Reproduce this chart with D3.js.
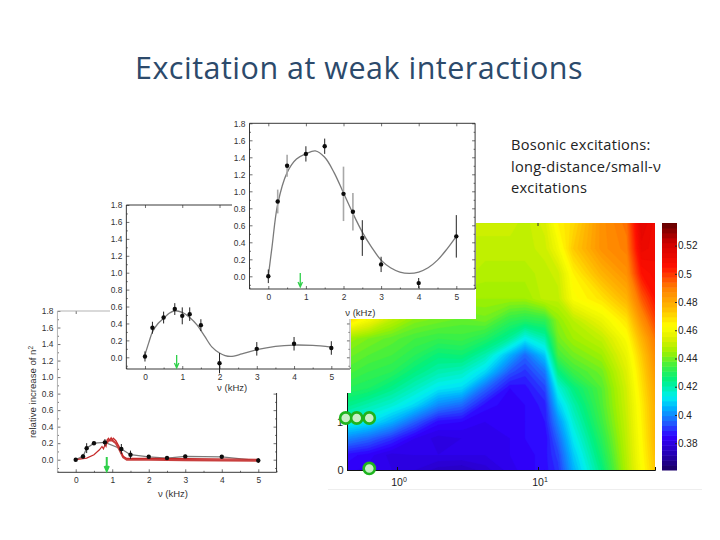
<!DOCTYPE html>
<html><head><meta charset="utf-8">
<script src="https://cdn.jsdelivr.net/npm/d3@7"></script>
<style>html,body{margin:0;background:#fff}svg{display:block}</style></head>
<body><div id="c"></div>
<script>
const titleText = "Excitation at weak interactions";
const noteLines = ["Bosonic excitations:", "long-distance/small-ν", "excitations"];
const yTicks = [0,0.2,0.4,0.6,0.8,1.0,1.2,1.4,1.6,1.8];
const yMinor = [-0.1,0.1,0.3,0.5,0.7,0.9,1.1,1.3,1.5,1.7];
const xTicks = [0,1,2,3,4,5];
const xMinor = [-0.5,0.5,1.5,2.5,3.5,4.5,5.5];
const arrowNu = [0.85];

// top panel
const topX = [0,0.25,0.5,1,1.5,2,2.25,2.5,3,4,5];
const topY = [0,0.88,1.30,1.44,1.53,0.97,0.76,0.45,0.14,-0.08,0.47];
const topErr = [0.08,0.14,0.13,0.09,0.09,0.32,0.22,0.21,0.09,0.06,0.25];
const topGrayErrX = [0.25,0.5,2,2.25];
const topCurveX = [0,0.1,0.25,0.5,0.75,1,1.25,1.5,1.75,2,2.25,2.5,2.75,3,3.25,3.5,3.75,4,4.25,4.5,4.75,5];
const topCurveY = [0,0.35,0.85,1.22,1.38,1.44,1.475,1.40,1.22,0.98,0.74,0.52,0.34,0.19,0.10,0.05,0.035,0.05,0.10,0.19,0.32,0.47];

// middle panel
const midX = [0,0.2,0.5,0.8,1,1.2,1.5,2,3,4,5];
const midY = [0.01,0.35,0.47,0.57,0.49,0.51,0.38,-0.07,0.10,0.16,0.11];
const midErr = [0.06,0.07,0.07,0.07,0.10,0.08,0.07,0.12,0.08,0.08,0.08];
const midCurveX = [0,0.1,0.2,0.35,0.5,0.65,0.8,1,1.2,1.4,1.6,1.8,2,2.15,2.3,2.6,3,3.5,4,4.5,5];
const midCurveY = [0.03,0.17,0.30,0.40,0.46,0.52,0.55,0.53,0.47,0.38,0.25,0.12,0.05,0.02,0.01,0.04,0.09,0.13,0.145,0.14,0.12];

// bottom panel
const lowX = [0,0.2,0.3,0.5,0.8,1.25,1.5,2,2.5,3,4,5];
const lowY = [0,0.04,0.14,0.20,0.21,0.13,0.06,0.035,0.02,0.04,0.035,-0.01];
const lowErr = [0.01,0.03,0.06,0.02,0.04,0.06,0.05,0.02,0.02,0.02,0.02,0.03];
const redX = [0,0.3,0.5,0.65,0.72,0.76,0.8,0.83,0.86,0.9,0.93,0.97,1.0,1.03,1.1,1.2,1.3,1.4,2,3,5];
const redY = [0,0.02,0.06,0.12,0.16,0.13,0.18,0.16,0.24,0.26,0.235,0.265,0.24,0.26,0.23,0.15,0.04,0.015,0.015,0.012,0.005];
const red2X = [0.85,0.9,1.0,1.1,1.2,1.3,1.4,2,3,5];
const red2Y = [0.20,0.235,0.235,0.20,0.12,0.03,0.0,0.0,-0.005,-0.012];

// colour map panel
const mapNu = [0.44,0.626,0.917,1.34,1.96,2.88,4.21,6.33,8.09,11.2,13.9,17.8,28.3,42.6,54.3,67.6];
const mapY = [0,0.29,0.61,0.93,1.25,1.57,1.89,2.21,2.53,2.88,3.30,3.78,4.26,4.74];
const mapRows = [
 [.384,.382,.381,.379,.376,.375,.378,.382,.384,.386,.39,.405,.425,.448,.462,.473],
 [.386,.384,.38,.381,.381,.381,.381,.383,.384,.386,.392,.408,.428,.449,.463,.475],
 [.40,.396,.39,.383,.38,.381,.382,.383,.385,.385,.396,.412,.431,.45,.464,.477],
 [.415,.412,.405,.395,.386,.385,.383,.383,.385,.387,.401,.416,.434,.451,.465,.478],
 [.424,.42,.416,.41,.40,.396,.386,.384,.385,.388,.408,.42,.436,.452,.466,.479],
 [.431,.429,.424,.418,.412,.41,.396,.385,.386,.392,.415,.425,.437,.453,.468,.481],
 [.436,.433,.431,.425,.42,.418,.41,.394,.39,.398,.425,.434,.44,.455,.47,.484],
 [.44,.437,.435,.431,.426,.427,.42,.405,.396,.408,.435,.44,.445,.458,.473,.487],
 [.445,.441,.438,.435,.433,.434,.43,.422,.413,.42,.44,.445,.45,.462,.478,.491],
 [.47,.46,.449,.442,.44,.438,.44,.432,.43,.432,.443,.449,.458,.468,.486,.498],
 [.46,.455,.45,.447,.445,.445,.445,.445,.445,.45,.45,.462,.468,.478,.495,.505],
 [.455,.452,.45,.45,.45,.45,.448,.448,.448,.45,.452,.465,.478,.486,.505,.508],
 [.452,.45,.45,.45,.45,.45,.45,.45,.45,.452,.46,.473,.486,.49,.512,.51],
 [.45,.45,.45,.45,.45,.452,.452,.452,.45,.454,.465,.47,.486,.492,.515,.51]
];
const jetStops = [.361,.372,.385,.395,.405,.413,.425,.435,.445,.455,.463,.475,.49,.505,.522,.536];
const jetColors = ["#1a0060","#2400b0","#3000ff","#2060ff","#00b0ff","#00f0f0","#00f080","#40f040","#a0f000","#e0f000","#ffff00","#ffc000","#ff8000","#ff1000","#d00000","#600000"];
const barTicks = [0.38,0.40,0.42,0.44,0.46,0.48,0.50,0.52];
const barLabels = ["0.38","0.4","0.42","0.44","0.46","0.48","0.5","0.52"];
const markerNu = [0.433,0.518,0.636,0.636];
const markerY = [1,1,1,0.03];

const svg = d3.select("#c").append("svg").attr("width",720).attr("height",540).attr("viewBox","0 0 720 540");
const FONT = "Liberation Sans, Arial, sans-serif";
const INK = "#333";

function panel(o){
  const g = svg.append("g");
  g.append("rect").attr("x",o.bg[0]).attr("y",o.bg[1]).attr("width",o.bg[2]).attr("height",o.bg[3]).attr("fill","#fff");
  const x = d3.scaleLinear().domain([-0.5,5.5]).range(o.xr);
  const y = d3.scaleLinear().domain([0,1.8]).range(o.yr);
  const ymin = o.bottom, L = x(-0.5), R = x(5.5), T = y(1.8);
  const tr = (s,a,b)=> s.attr("transform",`translate(${a},${b})`);
  const styl = s => { s.selectAll(".domain").remove();
     s.selectAll("line").attr("stroke","#333").attr("stroke-width",0.7);
     s.selectAll("text").attr("font-family",FONT).attr("font-size",8.4).attr("fill",INK); };
  tr(g.append("g"),L,0).call(d3.axisLeft(y).tickValues(yTicks).tickFormat(d3.format(".1f")).tickSize(-3).tickPadding(4)).call(styl);
  tr(g.append("g"),L,0).call(d3.axisLeft(y).tickValues(yMinor).tickFormat("").tickSize(-1.5)).call(styl);
  tr(g.append("g"),R,0).call(d3.axisRight(y).tickValues(yTicks).tickFormat("").tickSize(-3)).call(styl);
  tr(g.append("g"),R,0).call(d3.axisRight(y).tickValues(yMinor).tickFormat("").tickSize(-1.5)).call(styl);
  tr(g.append("g"),0,ymin).call(d3.axisBottom(x).tickValues(xTicks).tickFormat(d3.format("d")).tickSize(-3).tickPadding(5)).call(styl);
  tr(g.append("g"),0,ymin).call(d3.axisBottom(x).tickValues(xMinor).tickFormat("").tickSize(-1.5)).call(styl);
  tr(g.append("g"),0,T).call(d3.axisTop(x).tickValues(xTicks).tickFormat("").tickSize(-3)).call(styl);
  const fr = o.frame||"#222";
  const edge=(a,b,c,d,col)=>g.append("line").attr("x1",a).attr("y1",b).attr("x2",c).attr("y2",d).attr("stroke",col).attr("stroke-width",0.9);
  edge(L,T,L,ymin,fr); edge(L,T,R,T,fr); edge(L,ymin,R,ymin,"#222"); edge(R,T,R,ymin,o.rightFrame||"#222");
  g.append("text").attr("x",(x(0)+x(5))/2+o.labelDx).attr("y",o.labelY).attr("text-anchor","middle").attr("font-family",FONT).attr("font-size",9.5).attr("fill",INK).text("ν (kHz)");

  const lineSm = d3.line().x(d=>x(d[0])).y(d=>y(d[1])).curve(o.curve||d3.curveCatmullRom);
  g.append("path").datum(d3.zip(o.cx,o.cy)).attr("d",lineSm).attr("fill","none").attr("stroke","#7a7a7a").attr("stroke-width",1.3);
  if (o.after) o.after(g,x,y);
  const pts = d3.zip(o.px,o.py,o.pe);
  g.selectAll(".err").data(pts).join("line").attr("x1",d=>x(d[0])).attr("x2",d=>x(d[0])).attr("y1",d=>y(d[1]-d[2])).attr("y2",d=>y(d[1]+d[2]))
    .attr("stroke",d=>(o.gray||[]).includes(d[0])?"#a8a8a8":"#222").attr("stroke-width",d=>(o.gray||[]).includes(d[0])?1.6:1);
  g.selectAll(".pt").data(pts).join("circle").attr("cx",d=>x(d[0])).attr("cy",d=>y(d[1])).attr("r",2.2).attr("fill","#0c0c0c");
  const ax = x(arrowNu[0]);
  g.append("path").attr("d",`M${ax},${o.arrow[0]}V${o.arrow[1]}M${ax-2.2},${o.arrow[1]-5}L${ax},${o.arrow[1]}L${ax+2.2},${o.arrow[1]-5}`)
    .attr("fill","none").attr("stroke","#2fd04a").attr("stroke-width",o.arrowW||1.3);
  return g;
}

// bottom panel
panel({bg:[20,300,330,205],xr:[75.7-18.25,258.3+18.25],yr:[459.7,311],bottom:472.3,frame:"#aaa",
  cx:lowX,cy:lowY,px:lowX,py:lowY,pe:lowErr,arrow:[457,471],arrowW:2,labelDx:6,labelY:497,
  curve:d3.curveLinear,
  after:(g,x,y)=>{
    const l = d3.line().x(d=>x(d[0])).y(d=>y(d[1]));
    g.append("path").datum(d3.zip(red2X,red2Y)).attr("d",l).attr("fill","none").attr("stroke","#c9403f").attr("stroke-width",2.2);
    g.append("path").datum(d3.zip(redX,redY)).attr("d",l).attr("fill","none").attr("stroke","#c62828").attr("stroke-width",1.2);
  }});
svg.append("text").attr("transform","translate(36,392) rotate(-90)").attr("text-anchor","middle").attr("font-family",FONT).attr("font-size",9.6).attr("fill",INK)
  .text("relative increase of n").append("tspan").attr("dy",-3).attr("font-size",6.5).text("2");

// colour map
const heat = svg.append("g");
const mapXScale = d3.scaleLog().domain([10**((347-397)/141),10**((655-397)/141)]).range([347,655]);
const mapYScale = d3.scaleLinear().domain([0,4.75]).range([470,223]);
const color = d3.scaleLinear().domain(jetStops).range(jetColors).clamp(true);
const nx = mapNu.length, ny = mapY.length;
const flat = mapRows.flat();
const ixPos = d3.scaleLinear().domain(mapNu.map((_,i)=>i+0.5)).range(mapNu.map(v=>mapXScale(v))).clamp(true);
const iyPos = d3.scaleLinear().domain(mapY.map((_,i)=>i+0.5)).range(mapY.map(v=>mapYScale(v))).clamp(true);
const levels = d3.range(0.361,0.5361,0.002);
const contours = d3.contours().size([nx,ny]).thresholds(levels).smooth(true)(flat);
const proj = d3.geoTransform({point(x,y){this.stream.point(ixPos(x),iyPos(y));}});
const geo = d3.geoPath(proj);
heat.append("clipPath").attr("id","mapclip").append("rect").attr("x",347).attr("y",223).attr("width",308).attr("height",247);
const hg = heat.append("g").attr("clip-path","url(#mapclip)");
hg.append("rect").attr("x",347).attr("y",223).attr("width",308).attr("height",247).attr("fill",color(0.37));
hg.selectAll("path").data(contours).join("path").attr("d",geo).attr("fill",d=>color(d.value+0.001)).attr("stroke",d=>color(d.value+0.001)).attr("stroke-width",0.4);

const hax = heat.append("g");
hax.append("g").attr("transform","translate(0,470)")
  .call(d3.axisBottom(mapXScale).tickValues([1,10]).tickFormat("").tickSize(-3))
  .call(s=>{s.selectAll("line").attr("stroke","#111");s.select(".domain").attr("stroke","#111").attr("stroke-width",1);});
hax.append("g").attr("transform","translate(347,0)")
  .call(d3.axisLeft(mapYScale).tickValues([0,1]).tickFormat("").tickSize(-3))
  .call(s=>{s.selectAll("line").attr("stroke","#111");s.select(".domain").attr("stroke","#111").attr("stroke-width",1);});
hax.append("line").attr("x1",mapXScale(10)).attr("x2",mapXScale(10)).attr("y1",223).attr("y2",226).attr("stroke","#333");
[[1,"0"],[10,"1"]].forEach(([v,e])=>{
  const t = heat.append("text").attr("x",mapXScale(v)+2).attr("y",486).attr("text-anchor","middle").attr("font-family",FONT).attr("font-size",10.5).attr("fill","#222").text("10");
  t.append("tspan").attr("dy",-4).attr("font-size",7).text(e);
});
heat.append("text").attr("x",340.5).attr("y",474).attr("text-anchor","middle").attr("font-family",FONT).attr("font-size",11).attr("fill","#222").text("0");
heat.append("text").attr("x",340).attr("y",426).attr("text-anchor","middle").attr("font-family",FONT).attr("font-size",11).attr("fill","#222").text("1");
heat.append("line").attr("x1",328).attr("x2",702).attr("y1",489.5).attr("y2",489.5).attr("stroke","#eeeeee").attr("stroke-width",1);

// colour bar
const barY = d3.scaleLinear().domain([0.361,0.536]).range([470,223]).clamp(true);
const barLevels = d3.range(0.361,0.536,0.0035);
heat.selectAll(".bar").data(barLevels).join("rect").attr("x",662).attr("width",15)
  .attr("y",d=>barY(d+0.0035)).attr("height",d=>barY(d)-barY(d+0.0035)+0.5).attr("fill",d=>color(d+0.00175));
heat.append("g").attr("transform","translate(677,0)")
  .call(d3.axisRight(barY).tickValues(barTicks).tickSize(-2).tickPadding(1).tickFormat((d,i)=>barLabels[i]))
  .call(s=>{s.select(".domain").remove();s.selectAll("line").attr("stroke","#222");
    s.selectAll("text").attr("font-family",FONT).attr("font-size",10).attr("fill","#222");});

// middle panel
panel({bg:[110,195,241,198],xr:[145-18.65,331.3+18.65],yr:[357.3,205],bottom:369,rightFrame:"#999",
  cx:midCurveX,cy:midCurveY,px:midX,py:midY,pe:midErr,arrow:[355,368],labelDx:-6,labelY:391});
// top panel
panel({bg:[232,112,244,207],xr:[268.3-18.8,456.3+18.8],yr:[276.3,123.3],bottom:289,
  cx:topCurveX,cy:topCurveY,px:topX,py:topY,pe:topErr,gray:topGrayErrX,arrow:[273,287],labelDx:-2,labelY:316});

// markers
svg.append("g").selectAll("circle").data(d3.zip(markerNu,markerY)).join("circle")
  .attr("cx",d=>mapXScale(d[0])).attr("cy",d=>mapYScale(d[1])).attr("r",5.6)
  .attr("fill","#c8eec8").attr("stroke","#1eb41e").attr("stroke-width",2.6);

// title + note
svg.append("text").attr("x",359).attr("y",79).attr("text-anchor","middle").attr("font-family","Open Sans, Noto Sans, sans-serif").attr("font-size",30.5).attr("letter-spacing",0.5).attr("fill","#2c4a6b").text(titleText);
svg.append("g").selectAll("text").data(noteLines).join("text").attr("x",511).attr("y",(d,i)=>150+i*21.7)
  .attr("font-family","Open Sans, Noto Sans, sans-serif").attr("font-size",14.6).attr("letter-spacing",0.25).attr("fill","#222").text(d=>d);
</script></body></html>
